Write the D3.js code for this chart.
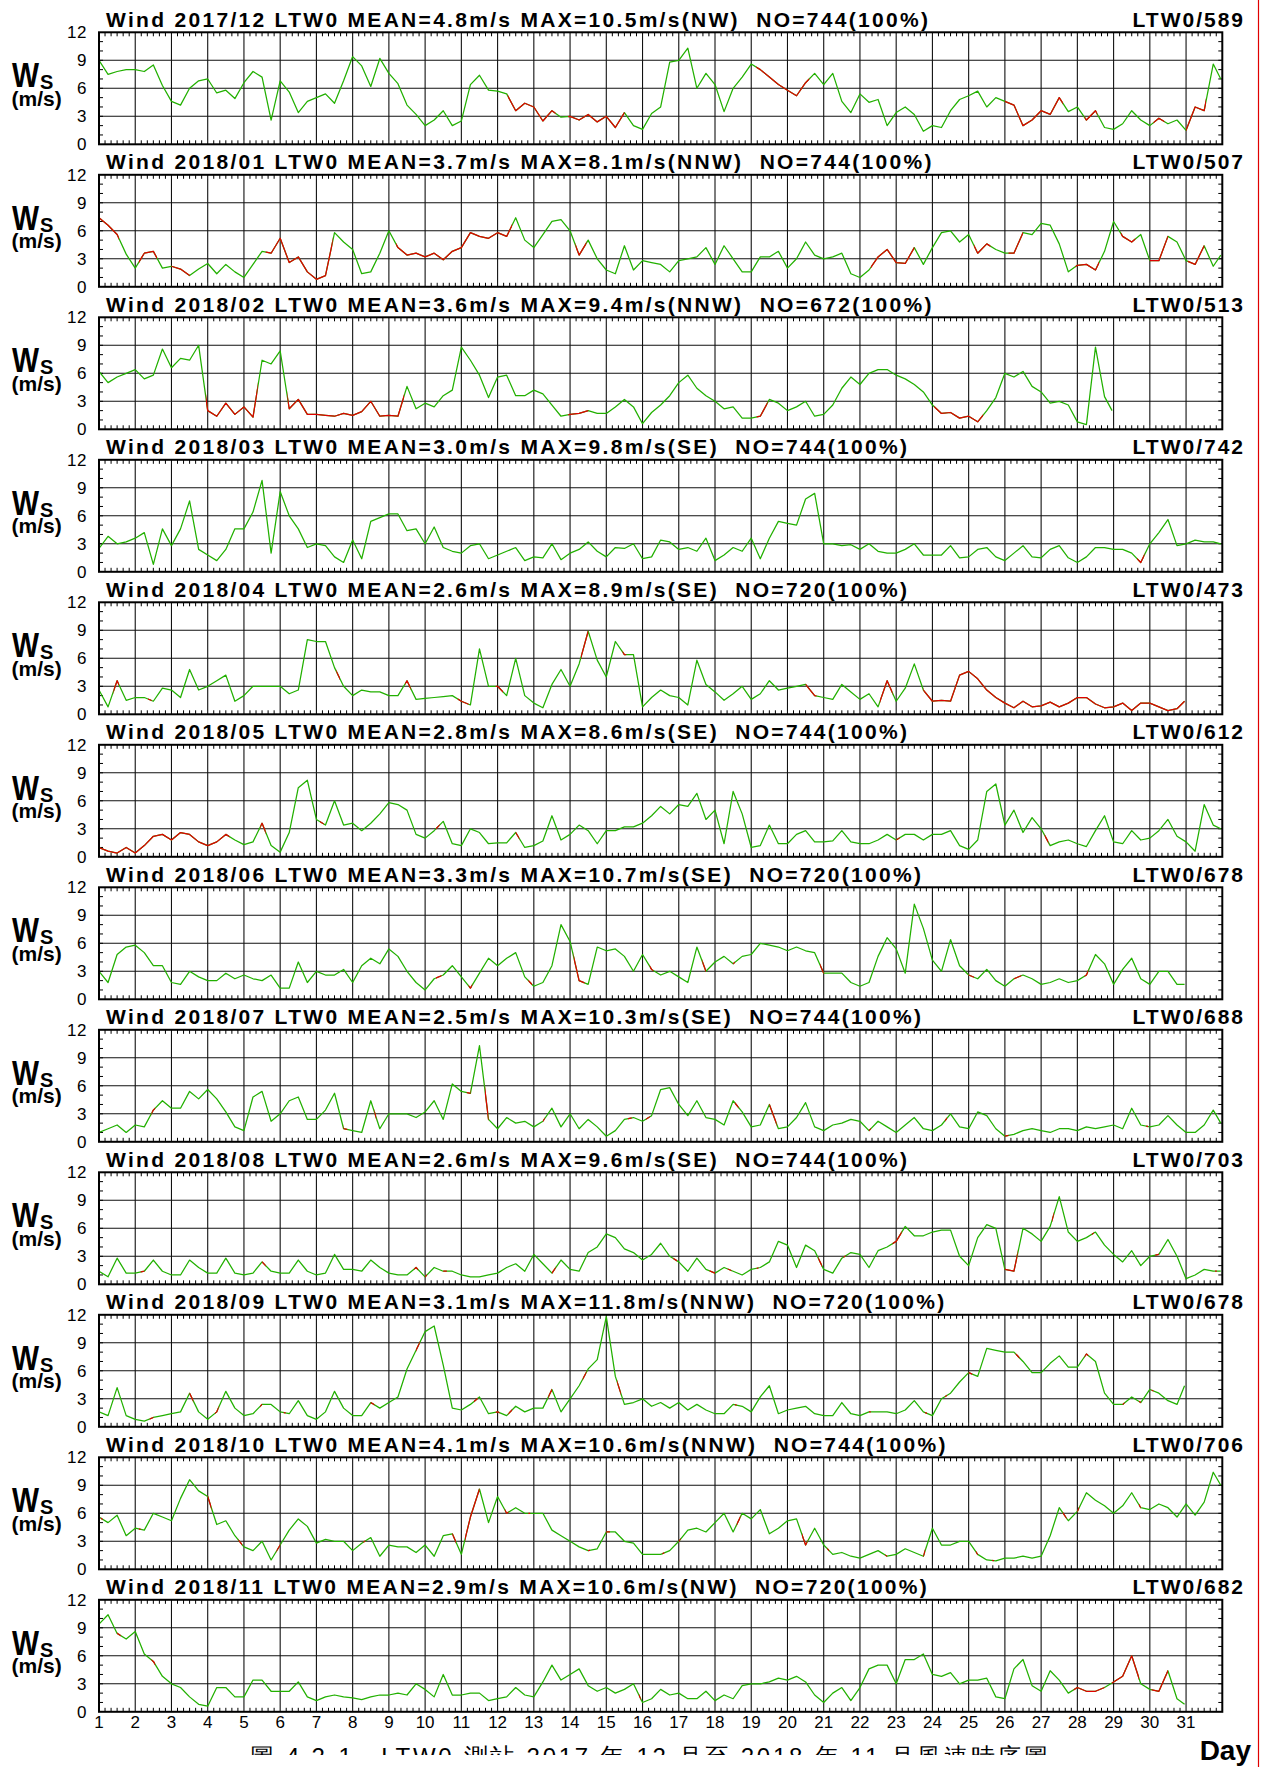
<!DOCTYPE html>
<html><head><meta charset="utf-8">
<script src="https://cdn.jsdelivr.net/npm/d3@7"></script>
<style>
body{margin:0;background:#fff}
svg{display:block}
text{font-family:"Liberation Sans",Arial,Helvetica,sans-serif}
</style>
</head><body>
<svg id="chart" width="1261" height="1767"></svg>
<script>
// ---------------- DATA ----------------
const months = ["2017/12","2018/01","2018/02","2018/03","2018/04","2018/05","2018/06","2018/07","2018/08","2018/09","2018/10","2018/11"];
const monthDays = [31,31,28,31,30,31,30,31,31,30,31,30];
const meanValues = ["4.8","3.7","3.6","3.0","2.6","2.8","3.3","2.5","2.6","3.1","4.1","2.9"];
const maxValues = ["10.5","8.1","9.4","9.8","8.9","8.6","10.7","10.3","9.6","11.8","10.6","10.6"];
const maxDirs = ["NW","NNW","NNW","SE","SE","SE","SE","SE","SE","NNW","NNW","NW"];
const counts = [744,744,672,744,720,744,720,744,744,720,744,720];
const stationTags = ["LTW0/589","LTW0/507","LTW0/513","LTW0/742","LTW0/473","LTW0/612","LTW0/678","LTW0/688","LTW0/703","LTW0/678","LTW0/706","LTW0/682"];
const yTicks = [0,3,6,9,12];
const dayLabels = d3.range(1,32);

// wind speed (m/s), one value every 6 hours from day 1 00h, plus the last hour of the month
const ws201712 = [9.0,7.5,7.8,8.0, 8.0,7.8,8.5,6.3, 4.6,4.2,6.0,6.8, 7.0,5.5,5.8,4.9, 6.6,7.8,7.2,2.6, 6.8,5.6,3.4,4.6, 5.0,5.4,4.4,6.8, 9.4,8.4,6.2,9.2, 7.6,6.5,4.2,3.2, 2.0,2.6,3.6,2.0, 2.5,6.4,7.4,5.8, 5.7,5.4,3.6,4.4, 4.0,2.5,3.6,2.9, 3.0,2.6,3.2,2.4, 3.0,1.8,3.4,2.0, 1.6,3.3,4.0,8.8, 9.0,10.3,6.0,7.6, 6.4,3.5,6.0,7.2, 8.6,8.0,7.2,6.4, 5.8,5.2,6.6,7.6, 6.4,7.6,4.6,3.4, 5.4,4.5,4.8,2.0, 3.4,4.0,3.2,1.4, 2.0,1.8,3.6,4.8, 5.2,5.7,4.0,5.0, 4.6,4.2,2.0,2.6, 3.6,3.2,5.0,3.5, 4.0,2.6,3.6,1.8, 1.6,2.2,3.6,2.6, 2.0,2.8,2.2,2.6, 1.5,4.0,3.6,8.6, 7.0];
const ws201801 = [7.4,6.6,5.6,3.5, 2.0,3.6,3.8,2.0, 2.2,1.9,1.2,1.9, 2.5,1.4,2.4,1.6, 1.0,2.4,3.8,3.6, 5.2,2.6,3.2,1.6, 0.8,1.2,5.8,4.8, 4.0,1.4,1.6,3.6, 6.0,4.2,3.4,3.6, 3.2,3.6,2.9,3.8, 4.2,5.8,5.4,5.2, 5.8,5.4,7.4,5.0, 4.2,5.6,7.0,7.2, 6.0,3.4,5.0,3.0, 1.8,1.4,4.4,1.8, 2.8,2.6,2.4,1.6, 2.8,3.0,3.2,4.2, 2.4,4.4,3.0,1.6, 1.6,3.2,3.2,3.8, 2.0,3.0,4.8,3.4, 3.0,3.2,3.6,1.4, 1.0,1.8,3.2,4.0, 2.6,2.5,4.2,2.4, 4.2,5.8,6.0,4.8, 5.6,3.6,4.6,4.0, 3.6,3.6,5.8,5.6, 6.8,6.6,4.6,1.6, 2.3,2.4,1.8,3.8, 7.0,5.4,4.8,5.6, 2.8,2.8,5.4,4.8, 2.8,2.4,4.4,2.2, 3.4];
const ws201802 = [6.2,5.0,5.6,6.0, 6.4,5.4,5.8,8.6, 6.6,7.6,7.4,9.0, 2.0,1.4,2.8,1.6, 2.4,1.3,7.4,7.0, 8.4,2.2,3.2,1.6, 1.6,1.5,1.4,1.7, 1.5,1.9,3.0,1.4, 1.5,1.4,4.6,2.2, 2.8,2.4,3.6,4.2, 8.8,7.4,5.8,3.4, 5.6,5.8,3.6,3.6, 4.2,3.8,2.6,1.4, 1.6,1.7,2.0,1.7, 1.7,2.4,3.2,2.4, 0.6,1.8,2.6,3.6, 5.0,5.8,4.4,3.6, 3.0,2.2,2.4,1.2, 1.2,1.4,3.2,2.8, 2.0,2.4,3.0,1.4, 1.6,2.6,4.4,5.6, 4.8,6.0,6.4,6.4, 5.8,5.4,4.8,4.0, 2.6,1.7,1.8,1.2, 1.4,0.8,2.0,3.4, 6.0,5.6,6.2,4.6, 4.0,2.8,3.0,2.6, 0.8,0.5,8.8,3.5, 2.0];
const ws201803 = [2.5,3.8,3.0,3.2, 3.6,4.2,0.8,4.6, 2.8,4.6,7.6,2.4, 1.8,1.2,2.4,4.6, 4.6,6.4,9.8,2.0, 8.6,6.0,4.6,2.6, 3.0,2.8,1.6,1.0, 3.4,1.4,5.4,5.8, 6.2,6.2,4.4,4.6, 3.0,4.8,2.6,2.2, 2.0,2.8,3.0,1.4, 1.8,2.2,2.6,1.2, 1.6,1.5,3.0,1.3, 2.0,2.4,3.2,2.2, 1.6,2.6,2.5,3.0, 1.4,1.6,3.4,3.2, 2.4,2.6,2.2,3.6, 1.2,1.8,2.6,2.2, 3.6,1.4,3.6,5.4, 5.2,5.0,7.8,8.4, 3.0,3.0,2.8,2.9, 2.4,3.0,2.2,2.0, 2.0,2.4,3.0,1.8, 1.8,1.8,2.8,1.5, 1.6,2.4,2.6,1.6, 1.2,2.0,2.8,1.6, 1.5,2.4,2.8,1.5, 1.0,1.6,2.6,2.6, 2.4,2.4,2.0,1.0, 3.0,4.2,5.6,2.8, 3.0,3.4,3.2,3.2, 3.0];
const ws201804 = [2.6,0.8,3.6,1.5, 1.8,1.8,1.4,2.8, 2.6,1.8,4.8,2.6, 3.0,3.6,4.2,1.4, 2.0,3.0,3.0,3.0, 3.0,2.2,2.6,8.0, 7.8,7.8,5.0,3.0, 2.0,2.6,2.4,2.4, 2.0,2.0,3.6,1.6, 1.7,1.8,1.9,2.0, 1.4,1.0,7.0,3.0, 3.0,2.0,6.0,2.0, 1.2,0.7,3.2,4.8, 3.0,5.4,8.9,5.8, 4.0,7.8,6.4,6.4, 0.8,1.8,2.6,2.0, 1.8,1.0,5.8,3.2, 2.4,1.5,2.2,3.0, 1.6,2.2,3.6,2.6, 2.8,3.0,3.2,2.0, 1.8,1.6,3.2,2.4, 1.6,2.2,0.8,3.6, 1.4,2.8,5.4,2.6, 1.4,1.5,1.4,4.2, 4.6,3.8,2.6,1.8, 1.2,0.7,1.4,0.8, 0.9,1.3,0.8,1.2, 1.8,1.8,1.1,0.7, 0.8,1.2,0.4,1.2, 1.2,0.8,0.4,0.6, 1.4];
const ws201805 = [1.0,0.6,0.4,1.0, 0.4,1.2,2.2,2.4, 1.8,2.6,2.4,1.6, 1.2,1.6,2.4,1.8, 1.3,1.6,3.6,1.2, 0.5,2.6,7.4,8.2, 4.0,3.4,6.0,3.4, 3.6,2.8,3.6,4.6, 5.8,5.6,5.0,2.4, 2.0,2.8,3.8,1.4, 1.2,3.0,2.6,1.4, 1.5,1.5,2.6,1.0, 1.2,1.7,4.4,1.8, 2.4,3.4,2.8,1.4, 2.8,2.8,3.2,3.2, 3.6,4.4,5.4,4.6, 5.6,5.4,6.8,4.0, 5.0,1.4,7.0,4.6, 1.0,1.2,3.4,1.4, 1.4,2.4,2.8,1.6, 1.6,1.7,2.8,1.6, 1.4,1.4,1.8,2.4, 1.8,2.4,2.4,1.8, 2.4,2.4,2.8,1.2, 0.8,1.8,7.0,7.8, 3.4,5.0,2.6,4.2, 3.0,1.2,1.6,1.8, 1.4,1.1,2.8,4.4, 1.6,1.4,2.8,1.8, 2.0,2.8,4.0,2.2, 1.6,0.6,5.6,3.4, 3.0];
const ws201806 = [3.0,1.8,4.8,5.6, 5.8,5.0,3.6,3.6, 1.8,1.6,3.0,2.4, 2.0,2.0,2.8,2.2, 2.6,2.2,2.0,2.6, 1.2,1.2,4.0,1.8, 3.0,2.6,2.6,3.2, 1.8,3.6,4.4,3.8, 5.4,4.6,3.0,1.8, 1.0,2.2,2.6,3.6, 2.4,1.2,2.8,4.4, 3.6,4.4,5.0,2.4, 1.4,1.8,3.6,8.0, 6.2,2.0,1.6,5.6, 5.2,5.4,4.6,3.0, 4.8,3.2,2.6,3.0, 2.4,1.8,5.6,3.0, 4.0,4.6,3.8,4.6, 4.8,6.0,5.8,5.6, 5.2,5.6,5.2,5.0, 2.8,2.8,2.8,1.8, 1.4,1.8,4.6,6.6, 5.4,2.8,10.2,7.6, 4.2,3.0,6.4,3.6, 2.6,2.2,3.2,2.0, 1.4,2.2,2.6,2.2, 1.6,1.8,2.2,1.8, 2.0,2.6,4.8,3.8, 1.6,3.2,4.4,2.2, 1.6,3.0,3.0,1.6, 1.6];
const ws201807 = [1.0,1.4,1.8,1.0, 1.8,1.6,3.4,4.4, 3.6,3.6,5.4,4.6, 5.6,4.6,3.2,1.6, 1.2,4.8,5.4,2.2, 3.0,4.4,4.8,2.4, 2.4,3.4,5.2,1.4, 1.2,1.0,4.4,1.4, 3.0,3.0,3.0,2.6, 3.2,4.4,2.4,6.2, 5.4,5.2,10.3,2.4, 1.4,2.6,2.0,2.2, 1.6,2.2,3.6,1.6, 3.0,1.4,2.4,1.6, 0.6,1.2,2.4,2.6, 2.2,2.8,5.6,5.8, 4.0,2.8,4.4,2.6, 2.4,1.8,4.4,3.2, 1.6,1.8,4.0,1.4, 1.6,2.6,4.2,1.6, 1.2,1.8,2.0,2.4, 2.2,1.2,2.2,1.6, 1.0,1.8,2.6,1.4, 1.2,1.8,3.0,1.6, 1.4,3.2,2.8,1.4, 0.6,0.8,1.2,1.4, 1.2,1.0,1.4,1.4, 1.2,1.6,1.4,1.6, 1.8,1.4,3.6,1.8, 1.6,1.8,2.8,1.8, 1.0,1.0,1.8,3.4, 2.0];
const ws201808 = [1.4,0.8,2.8,1.2, 1.2,1.4,2.6,1.4, 1.0,1.0,2.6,1.8, 1.2,1.2,2.8,1.2, 1.0,1.2,2.4,1.4, 1.2,1.2,2.6,1.4, 1.0,1.2,3.2,1.6, 1.6,1.4,2.6,1.8, 1.2,1.0,1.0,1.8, 0.8,1.8,1.4,1.4, 1.0,0.8,0.8,1.0, 1.2,1.8,2.2,1.4, 3.2,2.2,1.2,2.6, 1.6,1.4,3.4,4.0, 5.4,5.0,3.8,3.4, 2.6,3.2,4.4,3.0, 2.4,1.4,2.8,1.6, 1.2,1.8,1.4,1.0, 1.6,1.8,2.4,4.6, 4.2,1.8,4.2,3.6, 1.6,1.2,2.8,3.4, 3.2,1.8,3.6,4.0, 4.6,6.2,5.2,5.2, 5.6,5.8,5.8,3.0, 2.0,5.0,6.4,6.0, 1.6,1.4,6.0,5.4, 4.6,6.2,9.4,5.6, 4.6,5.0,5.6,4.2, 3.2,2.4,3.6,2.0, 3.0,3.2,4.8,3.0, 0.6,1.0,1.6,1.4, 1.4];
const ws201809 = [1.6,1.2,4.2,1.2, 0.8,0.6,1.0,1.2, 1.4,1.6,3.6,1.6, 0.8,1.6,3.8,2.0, 1.2,1.4,2.4,2.4, 1.6,1.4,2.8,1.2, 0.8,1.6,3.8,2.0, 1.2,1.2,2.6,2.0, 2.6,3.2,6.2,8.2, 10.2,10.8,6.6,2.0, 1.8,2.4,3.2,1.4, 1.6,1.2,2.2,1.6, 2.0,2.0,4.0,1.6, 3.0,4.4,6.2,7.2, 11.8,5.4,2.4,2.6, 3.0,2.2,2.6,2.0, 2.6,1.8,2.4,1.8, 1.4,1.4,2.4,2.2, 1.6,3.2,4.4,1.4, 1.8,2.0,2.2,1.4, 1.2,1.2,2.6,1.4, 1.2,1.6,1.6,1.6, 1.4,1.8,2.8,1.6, 1.2,3.0,3.6,4.8, 5.8,5.4,8.4,8.2, 8.0,8.0,7.0,5.8, 5.8,6.8,7.6,6.4, 6.4,7.8,7.0,3.6, 2.4,2.4,3.2,2.6, 4.0,3.6,2.8,2.4, 4.4];
const ws201810 = [5.6,5.0,5.8,3.6, 4.4,4.2,6.0,5.6, 5.2,7.6,9.6,8.4, 7.8,4.8,5.2,3.6, 2.4,2.0,3.0,1.0, 2.6,4.2,5.4,4.6, 2.8,3.2,3.0,3.0, 2.0,2.8,3.4,1.4, 2.6,2.4,2.4,1.8, 2.6,1.4,3.6,3.8, 1.6,5.6,8.6,5.0, 7.8,6.0,6.6,6.0, 6.0,6.0,4.2,3.6, 3.0,2.4,2.0,2.2, 4.0,4.0,3.0,2.8, 1.6,1.6,1.6,2.0, 3.0,4.2,4.4,4.0, 5.0,6.0,4.0,6.0, 5.4,6.4,3.8,4.4, 5.2,5.4,2.6,4.4, 2.6,1.6,1.8,1.4, 1.2,1.6,2.0,1.4, 1.6,2.2,1.8,1.4, 4.4,2.6,2.6,3.0, 3.0,1.6,1.0,0.9, 1.2,1.2,1.4,1.2, 1.4,3.6,6.6,5.2, 6.2,8.2,7.4,6.8, 6.0,6.8,8.2,6.6, 6.4,7.0,6.6,5.6, 7.0,5.8,7.2,10.4, 9.0];
const ws201811 = [9.4,10.4,8.4,7.8, 8.6,6.2,5.4,3.8, 3.0,2.6,1.6,0.8, 0.6,2.6,2.6,1.6, 1.6,3.4,3.4,2.2, 2.2,2.2,3.2,1.6, 1.2,1.6,1.8,1.6, 1.5,1.3,1.6,1.8, 1.8,2.0,1.8,3.0, 2.4,1.6,4.0,1.8, 1.8,2.0,2.0,1.2, 1.4,1.6,2.6,1.8, 1.6,3.2,5.0,3.4, 4.0,4.6,2.8,2.2, 2.6,2.0,2.4,3.0, 1.0,1.4,2.4,1.8, 2.0,1.4,1.4,2.2, 1.2,1.8,1.4,2.8, 3.0,3.0,3.2,3.6, 3.4,3.8,3.2,1.8, 1.0,2.0,2.6,1.2, 2.6,4.6,5.0,5.0, 3.0,5.6,5.6,6.2, 4.0,3.8,4.2,3.0, 3.4,3.4,3.6,1.6, 1.4,4.6,5.6,2.8, 2.2,4.4,3.4,2.0, 2.6,2.2,2.2,2.6, 3.2,3.8,6.0,3.0, 2.4,2.2,4.4,1.4, 0.8];

// day ranges where the trace is drawn in red
const red201712 = [[12.28,13.6],[13.95,15.5],[19.14,20.6],[26.0,27.6],[28.2,28.55],[30.1,30.4],[31.0,31.55]];
const red201801 = [[1.0,1.55],[2.1,2.6],[3.0,3.5],[5.6,7.45],[9.2,12.4],[14.15,14.45],[22.3,23.5],[25.15,25.6],[26.1,26.5],[27.95,28.6],[29.2,29.6],[30.0,30.5],[31.05,31.5]];
const red201802 = [[3.95,5.38],[6.2,9.42],[13.95,14.5],[19.15,19.45],[24.05,25.4]];
const red201803 = [[29.65,29.85]];
const red201804 = [[1.4,1.55],[2.35,2.45],[7.55,7.65],[9.45,9.6],[10.9,11.2],[11.95,12.15],[14.3,14.5],[15.45,15.55],[20.5,20.8],[22.55,22.9],[23.75,31.0]];
const red201805 = [[1.0,4.6],[5.45,5.6],[7.1,7.2],[10.3,10.4],[12.5,12.6],[23.0,23.1],[27.1,27.2]];
const red201806 = [[10.3,10.45],[11.2,11.3],[12.85,12.95],[14.1,14.4],[16.2,16.3],[17.65,17.75],[18.5,18.55],[20.9,21.0],[25.0,25.15],[26.25,26.45],[28.2,28.3]];
const red201807 = [[2.45,2.55],[7.75,7.85],[8.6,8.65],[11.15,11.25],[11.65,11.75],[13.25,13.3],[15.6,15.7],[16.1,16.2],[18.55,18.65],[19.5,19.7],[22.25,22.3],[24.35,24.4],[26.0,26.1],[29.9,29.95]];
const red201808 = [[2.15,2.25],[5.5,5.6],[9.7,9.8],[10.0,10.05],[10.5,10.6],[13.5,13.6],[16.85,16.95],[17.85,18.0],[18.35,18.45],[19.15,19.2],[20.85,20.95],[21.55,21.6],[22.9,23.15],[26.0,26.35],[27.3,27.35],[28.4,28.45],[30.15,30.25],[31.8,31.85]];
const red201809 = [[2.4,2.5],[3.5,3.6],[4.2,4.3],[5.45,5.5],[6.1,6.15],[8.5,8.6],[9.75,9.85],[11.35,11.45],[11.95,12.05],[12.3,12.4],[13.4,13.5],[14.35,14.45],[15.3,15.4],[18.55,18.6],[22.25,22.3],[23.8,23.85],[24.35,24.4],[25.0,25.1],[26.3,26.4],[28.2,28.3],[29.25,29.3],[29.7,29.75],[30.05,30.1]];
const red201810 = [[1.05,1.1],[2.1,2.15],[4.0,4.1],[4.85,4.95],[5.9,6.0],[8.3,8.35],[10.75,10.85],[11.1,11.5],[12.2,12.3],[12.85,12.9],[14.5,14.55],[15.0,15.1],[16.55,16.6],[17.0,17.05],[18.6,18.7],[20.4,20.55],[21.1,21.15],[22.7,22.75],[23.75,23.8],[25.2,25.25],[25.65,25.7],[27.6,27.7],[28.0,28.05],[29.7,29.75]];
const red201811 = [[1.5,1.6],[2.45,2.55],[15.9,15.95],[27.9,28.75],[28.95,29.7],[30.05,30.5]];

const seriesList = [ws201712,ws201801,ws201802,ws201803,ws201804,ws201805,ws201806,ws201807,ws201808,ws201809,ws201810,ws201811];
const redList = [red201712,red201801,red201802,red201803,red201804,red201805,red201806,red201807,red201808,red201809,red201810,red201811];

// ---------------- DRAW ----------------
const svg = d3.select("#chart");
const W = 1261;
const left = 99, right = 1222.3, panelH = 112, firstTop = 32.3, step = 142.5;
const green = "#22b000", red = "#e00000";
const x = d3.scaleLinear().domain([1,32]).range([left,right]);

svg.append("rect").attr("width",W).attr("height",1767).attr("fill","#fff");

const defs = svg.append("defs");

months.forEach((m,i)=>{
  const top = firstTop + step*i;
  const y = d3.scaleLinear().domain([0,12]).range([top+panelH, top]);
  const g = svg.append("g");
  const data = seriesList[i];
  const n = data.length;
  const days = monthDays[i];
  const pts = data.map((v,k)=>({t: k===n-1 ? 1+days-1/24 : 1+k*0.25, v}));

  // grid
  g.selectAll(".hg").data([3,6,9]).join("line")
    .attr("x1",x(1)).attr("x2",x(32)).attr("y1",d=>y(d)).attr("y2",d=>y(d))
    .attr("stroke","#111").attr("stroke-width",1.1);
  g.selectAll(".vg").data(d3.range(2,32)).join("line")
    .attr("x1",d=>x(d)).attr("x2",d=>x(d)).attr("y1",y(12)).attr("y2",y(0))
    .attr("stroke","#111").attr("stroke-width",1.1);

  // minor ticks (every 4 hours) top & bottom
  const minor = d3.range(1, 32, 1/6).filter(t=>Math.abs(t-Math.round(t))>0.01);
  g.selectAll(".tt").data(minor).join("line")
    .attr("x1",d=>x(d)).attr("x2",d=>x(d)).attr("y1",y(12)).attr("y2",y(12)+4)
    .attr("stroke","#000").attr("stroke-width",1);
  g.selectAll(".tb").data(minor).join("line")
    .attr("x1",d=>x(d)).attr("x2",d=>x(d)).attr("y1",y(0)).attr("y2",y(0)-4)
    .attr("stroke","#000").attr("stroke-width",1);
  const yMinor = d3.range(1,12);
  g.selectAll(".tl").data(yMinor).join("line")
    .attr("x1",x(1)).attr("x2",x(1)+4).attr("y1",d=>y(d)).attr("y2",d=>y(d))
    .attr("stroke","#000").attr("stroke-width",1);
  g.selectAll(".tr").data(yMinor).join("line")
    .attr("x1",x(32)-4).attr("x2",x(32)).attr("y1",d=>y(d)).attr("y2",d=>y(d))
    .attr("stroke","#000").attr("stroke-width",1);

  // clip paths
  const cpId = "plot"+i, redId = "red"+i;
  defs.append("clipPath").attr("id",cpId).append("rect")
    .attr("x",x(1)).attr("y",y(12)).attr("width",x(32)-x(1)).attr("height",y(0)-y(12));
  defs.append("clipPath").attr("id",redId).selectAll("rect").data(redList[i]).join("rect")
    .attr("x",d=>x(d[0])).attr("width",d=>Math.max(1,x(d[1])-x(d[0])))
    .attr("y",y(12)-2).attr("height",panelH+4);

  const line = d3.line().x(d=>x(d.t)).y(d=>y(d.v));
  g.append("path").datum(pts).attr("d",line).attr("fill","none")
    .attr("stroke",green).attr("stroke-width",1.25).attr("stroke-linejoin","round")
    .attr("clip-path",`url(#${cpId})`);
  g.append("g").attr("clip-path",`url(#${cpId})`)
    .append("path").datum(pts).attr("d",line).attr("fill","none")
    .attr("stroke",red).attr("stroke-width",1.25).attr("stroke-linejoin","round")
    .attr("clip-path",`url(#${redId})`);

  // frame
  g.append("rect").attr("x",x(1)).attr("y",y(12)).attr("width",x(32)-x(1)).attr("height",panelH)
    .attr("fill","none").attr("stroke","#000").attr("stroke-width",2);

  // title
  g.append("text").attr("x",106).attr("y",top-5.6)
    .attr("xml:space","preserve").style("white-space","pre")
    .attr("font-size",21).attr("font-weight","bold").attr("letter-spacing","2.3px")
    .text(`Wind ${m} LTW0 MEAN=${meanValues[i]}m/s MAX=${maxValues[i]}m/s(${maxDirs[i]})  NO=${counts[i]}(100%)`);
  g.append("text").attr("x",1245).attr("y",top-5.6).attr("text-anchor","end")
    .attr("font-size",21).attr("font-weight","bold").attr("letter-spacing","2px")
    .text(stationTags[i]);

  // y tick labels
  g.selectAll(".yl").data(yTicks).join("text")
    .attr("x",87).attr("y",d=>y(d)+6).attr("text-anchor","end")
    .attr("font-size",17).attr("letter-spacing","0.5px").text(d=>d);

  // axis title W_S (m/s) as one text element
  const at = g.append("text").attr("font-weight","bold");
  at.append("tspan").attr("x",12).attr("y",top+55).attr("font-size",35)
    .attr("textLength",27).attr("lengthAdjust","spacingAndGlyphs").text("W");
  at.append("tspan").attr("x",40).attr("y",top+57).attr("font-size",20).text("S");
  at.append("tspan").attr("x",11.5).attr("y",top+73.5).attr("font-size",21).text("(m/s)");

  if(i===months.length-1){
    g.selectAll(".xl").data(dayLabels).join("text")
      .attr("x",d=>x(d)).attr("y",y(0)+16).attr("text-anchor","middle")
      .attr("font-size",17).text(d=>d);
  }
});

// x axis title
svg.append("text").attr("x",1251).attr("y",1760).attr("text-anchor","end")
  .attr("font-size",28).attr("font-weight","bold").text("Day");

// caption: only its upper part is visible in the reference
defs.append("clipPath").attr("id","capclip").append("rect")
  .attr("x",0).attr("y",1735).attr("width",W).attr("height",20);
svg.append("g").attr("clip-path","url(#capclip)")
  .append("text").attr("x",250).attr("y",1765)
  .attr("font-family","'Noto Sans CJK TC','Noto Sans CJK SC',sans-serif")
  .attr("font-size",24).attr("textLength",798).attr("lengthAdjust","spacing")
  .text("圖 4.2-1　LTW0 測站 2017 年 12 月至 2018 年 11 月風速時序圖");

// red border line at right edge
svg.append("line").attr("x1",1258.5).attr("x2",1258.5).attr("y1",0).attr("y2",1767)
  .attr("stroke","#e00000").attr("stroke-width",1.2);
</script>
</body></html>
